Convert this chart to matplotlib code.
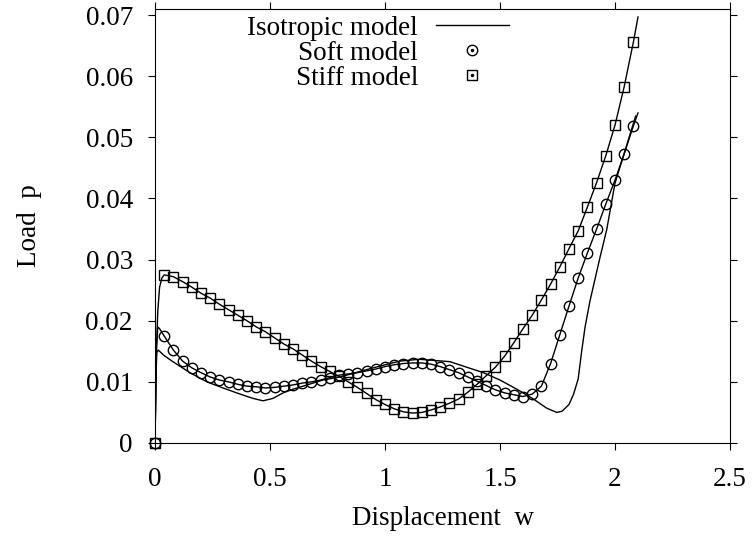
import matplotlib
matplotlib.use("Agg")
import matplotlib.pyplot as plt
from matplotlib.lines import Line2D
from matplotlib.legend_handler import HandlerTuple

plt.rcParams["font.family"] = ["Liberation Serif", "DejaVu Serif"]

# marker positions, one every 0.04 in w
w_pts = [0.00, 0.04, 0.08, 0.12, 0.16, 0.20, 0.24, 0.28, 0.32, 0.36,
         0.40, 0.44, 0.48, 0.52, 0.56, 0.60, 0.64, 0.68, 0.72, 0.76,
         0.80, 0.84, 0.88, 0.92, 0.96, 1.00, 1.04, 1.08, 1.12, 1.16,
         1.20, 1.24, 1.28, 1.32, 1.36, 1.40, 1.44, 1.48, 1.52, 1.56,
         1.60, 1.64, 1.68, 1.72, 1.76, 1.80, 1.84, 1.88, 1.92, 1.96,
         2.00, 2.04, 2.08]

soft_p = [0.0, 0.0175, 0.0152, 0.0134, 0.0123, 0.0115, 0.0108, 0.0103, 0.0100, 0.0096,
          0.0093, 0.0092, 0.0090, 0.0091, 0.0093, 0.0095, 0.0098, 0.0100, 0.0103, 0.0107,
          0.0111, 0.0113, 0.0115, 0.0118, 0.0121, 0.0125, 0.0128, 0.0130, 0.0131, 0.0131,
          0.0129, 0.0125, 0.0120, 0.0115, 0.0108, 0.0101, 0.0094, 0.0087, 0.0082, 0.0079,
          0.0076, 0.0080, 0.0093, 0.0130, 0.0177, 0.0224, 0.0270, 0.0311, 0.0350, 0.0391,
          0.0430, 0.0473, 0.0519]

stiff_p = [0.0, 0.0275, 0.0272, 0.0264, 0.0255, 0.0245, 0.0237, 0.0227, 0.0218, 0.0209,
           0.0200, 0.0190, 0.0182, 0.0172, 0.0162, 0.0154, 0.0144, 0.0134, 0.0125, 0.0117,
           0.0109, 0.0100, 0.0091, 0.0081, 0.0071, 0.0063, 0.0056, 0.0051, 0.0049, 0.0050,
           0.0054, 0.0059, 0.0065, 0.0072, 0.0083, 0.0096, 0.0110, 0.0124, 0.0142, 0.0164,
           0.0187, 0.0209, 0.0234, 0.0260, 0.0288, 0.0318, 0.0347, 0.0386, 0.0426, 0.0470,
           0.0520, 0.0583, 0.0656]

# the continuous curves also rise steeply at w=0 and run a bit past the last marker
soft_head_w = [0.0, 0.006, 0.012, 0.02]
soft_head_p = [0.0, 0.0150, 0.0190, 0.0187]
soft_tail_w = [2.10]
soft_tail_p = [0.0540]

stiff_head_w = [0.0, 0.006, 0.012, 0.02, 0.03]
stiff_head_p = [0.0, 0.0150, 0.0215, 0.0255, 0.0270]
stiff_tail_w = [2.10]
stiff_tail_p = [0.0697]

# isotropic model curve
iso_w = [0.0, 0.004, 0.008, 0.014, 0.04, 0.078, 0.152, 0.226, 0.296, 0.370,
         0.426, 0.470, 0.513, 0.557, 0.600, 0.661, 0.730, 0.804, 0.90, 1.00,
         1.065, 1.15, 1.283, 1.355, 1.428, 1.50, 1.573, 1.645, 1.703, 1.747,
         1.77, 1.80, 1.82, 1.84, 1.855, 1.87, 1.891, 1.935, 1.964, 2.00,
         2.09]
iso_p = [0.0, 0.0110, 0.0148, 0.0152, 0.0143, 0.0133, 0.0115, 0.0100, 0.0090, 0.0080,
         0.0073, 0.0069, 0.0073, 0.0082, 0.0088, 0.0095, 0.0103, 0.0108, 0.0118, 0.0128,
         0.0134, 0.0137, 0.0133, 0.0124, 0.0115, 0.0103, 0.0088, 0.0072, 0.0057, 0.0050,
         0.0052, 0.0063, 0.0080, 0.0105, 0.0150, 0.0190, 0.0232, 0.0304, 0.0349, 0.0425,
         0.0535]

xticks = [0, 0.5, 1, 1.5, 2, 2.5]
xtick_labels = ["0", "0.5", "1", "1.5", "2", "2.5"]
yticks = [0, 0.01, 0.02, 0.03, 0.04, 0.05, 0.06, 0.07]
ytick_labels = ["0", "0.01", "0.02", "0.03", "0.04", "0.05", "0.06", "0.07"]

fs = 19.5
lw = 1.0
ms = 7.5

fig = plt.figure(figsize=(7.52, 5.38), dpi=100)
ax = fig.add_axes([155 / 752, 95 / 538, 575 / 752, 434 / 538])

iso_line, = ax.plot(iso_w, iso_p, color="black", lw=lw)
ax.plot(soft_head_w + w_pts[1:] + soft_tail_w, soft_head_p + soft_p[1:] + soft_tail_p,
        color="black", lw=lw)
ax.plot(stiff_head_w + w_pts[1:] + stiff_tail_w, stiff_head_p + stiff_p[1:] + stiff_tail_p,
        color="black", lw=lw)
ax.plot(w_pts, soft_p, ls="none", marker="o", ms=ms, mfc="none", mec="black", mew=1.0,
        clip_on=False)
ax.plot(w_pts, stiff_p, ls="none", marker="s", ms=ms, mfc="none", mec="black", mew=1.0,
        clip_on=False)

ax.set_xlim(0, 2.5)
ax.set_ylim(0, 0.071)
ax.set_xticks(xticks)
ax.set_xticklabels(xtick_labels)
ax.set_yticks(yticks)
ax.set_yticklabels(ytick_labels)
ax.tick_params(direction="out", length=5, width=0.8, top=True, right=True,
               labelsize=fs, color="black")
ax.tick_params(axis="y", pad=11)
ax.tick_params(axis="x", pad=12.5)
for s in ax.spines.values():
    s.set_linewidth(0.8)

ax.set_xlabel("Displacement  w", fontsize=fs, labelpad=10)
ax.set_ylabel("Load  p", fontsize=fs, labelpad=31)

# legend markers carry a small centre dot, as in the reference
soft_h = (Line2D([], [], ls="none", marker="o", ms=ms, mfc="none", mec="black", mew=1.0),
          Line2D([], [], ls="none", marker="o", ms=1.5, color="black"))
stiff_h = (Line2D([], [], ls="none", marker="s", ms=ms, mfc="none", mec="black", mew=1.0),
           Line2D([], [], ls="none", marker="o", ms=1.5, color="black"))
ax.legend([iso_line, soft_h, stiff_h], ["Isotropic model", "Soft model", "Stiff model"],
          handler_map={tuple: HandlerTuple(ndivide=1)},
          loc="upper right", bbox_to_anchor=(0.615, 0.984), markerfirst=False,
          frameon=False, fontsize=fs, handlelength=2.7, handletextpad=0.65,
          labelspacing=0.0, borderpad=0.0, borderaxespad=0.0)

fig.savefig("out.png", dpi=100)
